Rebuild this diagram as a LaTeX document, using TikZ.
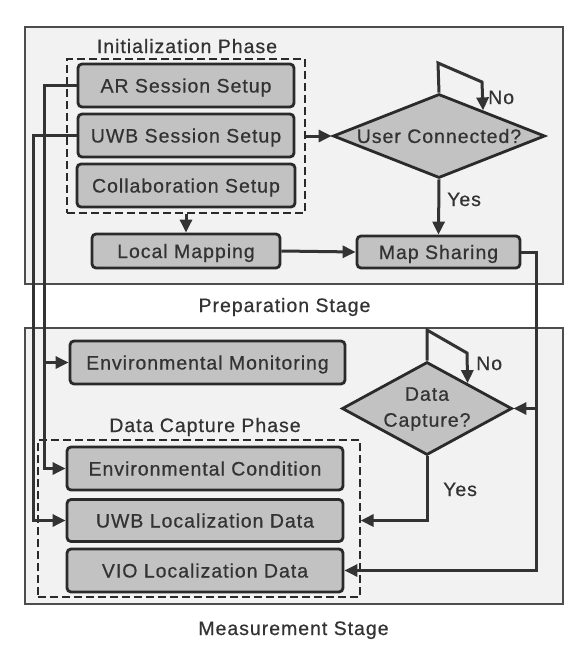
\documentclass[tikz,border=0pt]{standalone}
\usepackage{fontspec}
\setmainfont{Liberation Sans}[LetterSpace=5,FakeBold=0.6]
\usetikzlibrary{arrows.meta,shapes.geometric,calc}
\definecolor{txt}{HTML}{333333}
\definecolor{boxfill}{HTML}{C2C2C2}
\definecolor{boxline}{HTML}{2A2A2A}
\definecolor{stagefill}{HTML}{F2F2F2}
\definecolor{stageline}{HTML}{4D4D4D}
\definecolor{conn}{HTML}{333333}
\tikzset{
  stagebox/.style={draw=stageline, fill=stagefill, line width=1.7pt, inner sep=0pt},
  phasebox/.style={draw=boxline, dash pattern=on 8pt off 4pt, line width=1.2pt, inner sep=0pt},
  procbox/.style={draw=boxline, fill=boxfill, line width=2.8pt, rounded corners=4pt, inner sep=0pt, text=txt, font=\fontsize{19.5}{23}\selectfont, text height=14pt, text depth=0pt},
  decbox/.style={draw=boxline, fill=boxfill, line width=2.8pt, shape=diamond, inner sep=0pt, text=txt, font=\fontsize{19.5}{26}\selectfont},
  lbl/.style={text=txt, font=\fontsize{19.5}{23}\selectfont, inner sep=0pt, text height=14pt, text depth=0pt},
  arr/.style={draw=conn, line width=3pt, -{Triangle[length=13pt,width=12pt]}},
}
\begin{document}
\begin{tikzpicture}[x=1pt,y=-1pt]
\useasboundingbox (0,0) rectangle (587,672);
% stages
\node[stagebox, minimum width=538pt, minimum height=257pt] (prep) at (294,155.5) {};
\node[stagebox, minimum width=538pt, minimum height=276pt] (meas) at (294,466) {};
\node[lbl] (preplbl) at (284.5,305) {Preparation Stage};
\node[lbl] (measlbl) at (293.5,628) {Measurement Stage};
% phases
\node[phasebox, minimum width=238pt, minimum height=154pt] (init) at (186,136) {};
\node[lbl] (initlbl) at (187,46) {Initialization Phase};
\node[phasebox, minimum width=322pt, minimum height=157pt] (dcp) at (199,518.5) {};
\node[lbl] (dcplbl) at (205,425) {Data Capture Phase};
% process boxes
\node[procbox, minimum width=216pt, minimum height=43pt] (ar) at (186,85.5) {AR Session Setup};
\node[procbox, minimum width=216pt, minimum height=43pt] (uwbs) at (186,135.5) {UWB Session Setup};
\node[procbox, minimum width=218pt, minimum height=43pt] (collab) at (186,185.5) {Collaboration Setup};
\node[procbox, minimum width=188pt, minimum height=34pt] (local) at (186,251) {Local Mapping};
\node[procbox, minimum width=163pt, minimum height=32pt] (mapsh) at (438.5,252) {Map Sharing};
\node[decbox, minimum width=212pt, minimum height=84pt] (user) at (439,136) {\makebox[0pt][c]{User Connected?}};
\node[procbox, minimum width=275pt, minimum height=43pt] (envmon) at (207.5,362.5) {Environmental Monitoring};
\node[procbox, minimum width=276pt, minimum height=43pt] (envcond) at (205,468.5) {Environmental Condition};
\node[procbox, minimum width=276pt, minimum height=42pt] (uwbloc) at (205,520.5) {UWB Localization Data};
\node[procbox, minimum width=276pt, minimum height=43pt] (vio) at (205,570.5) {VIO Localization Data};
\node[decbox, minimum width=170pt, minimum height=93pt] (dc) at (427,408.5) {\makebox[0pt][c]{\begin{tabular}{@{}c@{}}Data\\Capture?\end{tabular}}};
% labels
\node[lbl, anchor=west] (no1) at (488,97) {No};
\node[lbl, anchor=west] (yes1) at (447,199) {Yes};
\node[lbl, anchor=west] (no2) at (476,363) {No};
\node[lbl, anchor=west] (yes2) at (443,489) {Yes};
% coordinates
\coordinate (l1a) at (438,63);
\coordinate (l1b) at (482,82);
\coordinate (l1c) at ($(user.north)!0.41!(user.east)$);
\coordinate (l2a) at (427,330);
\coordinate (l2b) at (467,353);
\coordinate (l2c) at ($(dc.north)!0.47!(dc.east)$);
\coordinate (rx) at (536,252);
\coordinate (ax) at (44,85.5);
\coordinate (ux) at (33,135.5);
% connectors
\draw[arr] (init.east) -- (user.west);
\draw[arr] (init.south) -- (local.north);
\draw[arr] (local.east) -- (mapsh.west);
\draw[arr] (user.south) -- (mapsh.north);
\draw[arr] (user.north) -- (l1a) -- (l1b) -- (l1c);
\draw[arr] (dc.north) -- (l2a) -- (l2b) -- (l2c);
\draw[arr] (mapsh.east) -- (rx) -- (rx |- vio) -- (vio.east);
\draw[arr] (rx |- dc) -- (dc.east);
\draw[arr] (dc.south) -- (dc.south |- uwbloc) -- (dcp.east |- uwbloc);
\draw[arr] (ar.west) -- (ax) -- (ax |- envmon) -- (envmon.west);
\draw[arr] (ax |- envmon) -- (ax |- envcond) -- (envcond.west);
\draw[arr] (uwbs.west) -- (ux) -- (ux |- uwbloc) -- (uwbloc.west);
\end{tikzpicture}
\end{document}
